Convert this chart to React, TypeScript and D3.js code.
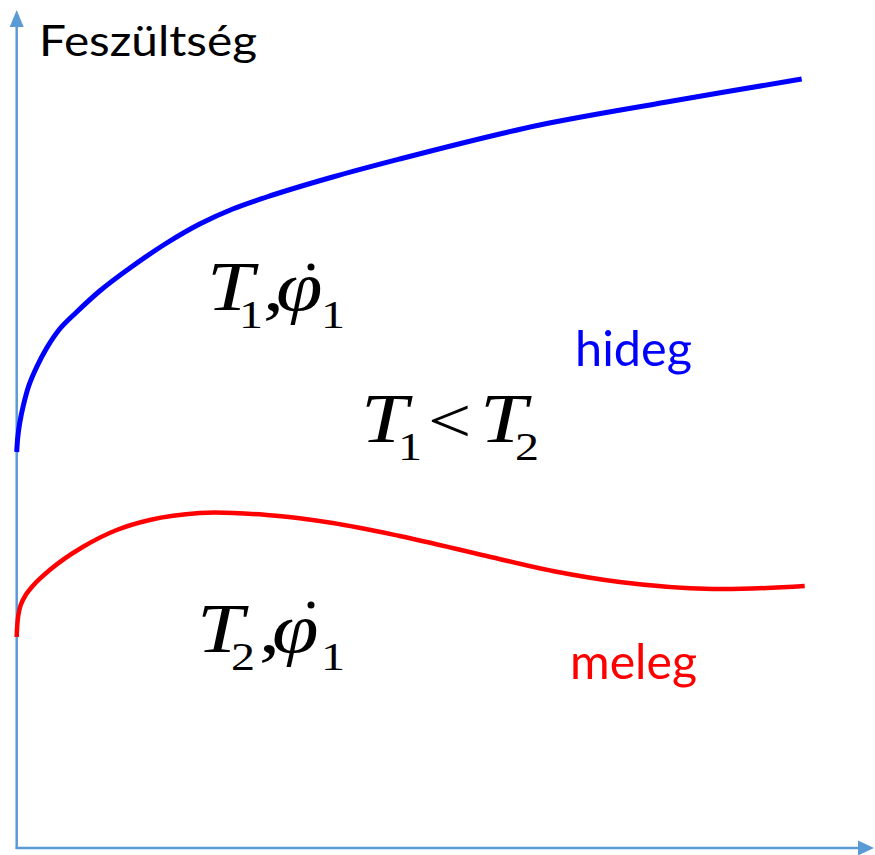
import React from "react";
import * as d3 from "d3";

const W = 875;
const H = 855;

// Curve data: x = strain-like units, y = stress-like units
const hidegX = [0, 1, 3, 7, 12, 20, 30, 43, 60, 83, 116, 150, 183, 216, 250, 316, 383, 523, 650, 785];
const hidegY = [396, 410, 425, 444, 462, 481, 500, 519, 536, 557, 582, 605, 624, 639, 651, 671, 689, 723, 746, 769];
const melegX = [0, 0.5, 1.5, 4, 9, 16, 33, 66, 100, 133, 183, 250, 316, 383, 470, 536, 603, 696, 788];
const melegY = [211, 222, 232, 243, 253, 262, 278, 301, 318, 328, 335, 333, 325, 312, 292, 277, 266, 259, 262];

const axisLabel = "Feszültség";
const seriesLabels = ["hideg", "meleg"];

const AXIS = "#5B9BD5";
const X0 = 16.7;
const Y0 = 848;

const x = d3.scaleLinear().domain([0, 850]).range([X0, X0 + 850]);
const y = d3.scaleLinear().domain([0, 838]).range([Y0, Y0 - 838]);

const line = d3
  .line<[number, number]>()
  .x((d) => x(d[0]))
  .y((d) => y(d[1]))
  .curve(d3.curveCatmullRom.alpha(1));

const hideg = hidegX.map((v, i) => [v, hidegY[i]] as [number, number]);
const meleg = melegX.map((v, i) => [v, melegY[i]] as [number, number]);

const SERIF = "'Liberation Serif', 'Times New Roman', serif";
const SANS = "Lato, 'Open Sans', sans-serif";

function G(props: { x: number; y: number; t: string; size: number; italic?: boolean }) {
  return (
    <text
      transform={`translate(${props.x},${props.y}) scale(1.2,1)`}
      fontFamily={SERIF}
      fontSize={props.size}
      fontStyle={props.italic ? "italic" : "normal"}
      fill="#000"
    >
      {props.t}
    </text>
  );
}

export default function App() {
  return (
    <svg width={W} height={H} style={{ position: "absolute", left: 0, top: 0 }}>
      <rect width={W} height={H} fill="#fff" />
      {/* axes */}
      <line x1={X0} y1={Y0 + 1} x2={X0} y2={24} stroke={AXIS} strokeWidth={2.5} />
      <path d={`M${X0},10 L${X0 - 7},27 L${X0 + 7},27 Z`} fill={AXIS} />
      <line x1={X0 - 1} y1={Y0} x2={860} y2={Y0} stroke={AXIS} strokeWidth={2.5} />
      <path d={`M874,${Y0} L858,${Y0 - 7.5} L858,${Y0 + 7.5} Z`} fill={AXIS} />

      <text x={39} y={56} fontFamily={SANS} fontSize={42} textLength={218} lengthAdjust="spacingAndGlyphs" fill="#000">
        {axisLabel}
      </text>

      {/* curves */}
      <path d={line(hideg) ?? ""} fill="none" stroke="#0000FF" strokeWidth={5} />
      <path d={line(meleg) ?? ""} fill="none" stroke="#FF0000" strokeWidth={4.5} />

      <text x={575} y={366} fontFamily={SANS} fontSize={48} textLength={117} lengthAdjust="spacingAndGlyphs" fill="#0000FF">
        {seriesLabels[0]}
      </text>
      <text x={570} y={679} fontFamily={SANS} fontSize={48} textLength={127} lengthAdjust="spacingAndGlyphs" fill="#FF0000">
        {seriesLabels[1]}
      </text>

      {/* T1, phi-dot 1 */}
      <G x={207} y={310} t="T" size={70} italic />
      <G x={239} y={328} t="1" size={40} />
      <G x={263} y={310} t="," size={70} />
      <G x={276} y={310} t="φ" size={70} italic />
      <circle cx={311} cy={267} r={3.5} fill="#000" />
      <G x={321} y={328} t="1" size={40} />

      {/* T1 < T2 */}
      <G x={361} y={442} t="T" size={70} italic />
      <G x={398} y={460} t="1" size={40} />
      <G x={428} y={442} t="<" size={64} />
      <G x={480} y={442} t="T" size={70} italic />
      <G x={515} y={460} t="2" size={40} />

      {/* T2, phi-dot 1 */}
      <G x={197} y={652} t="T" size={70} italic />
      <G x={231} y={670} t="2" size={40} />
      <G x={259} y={652} t="," size={70} />
      <G x={272} y={652} t="φ" size={70} italic />
      <circle cx={311} cy={605} r={3.5} fill="#000" />
      <G x={321} y={670} t="1" size={40} />
    </svg>
  );
}
